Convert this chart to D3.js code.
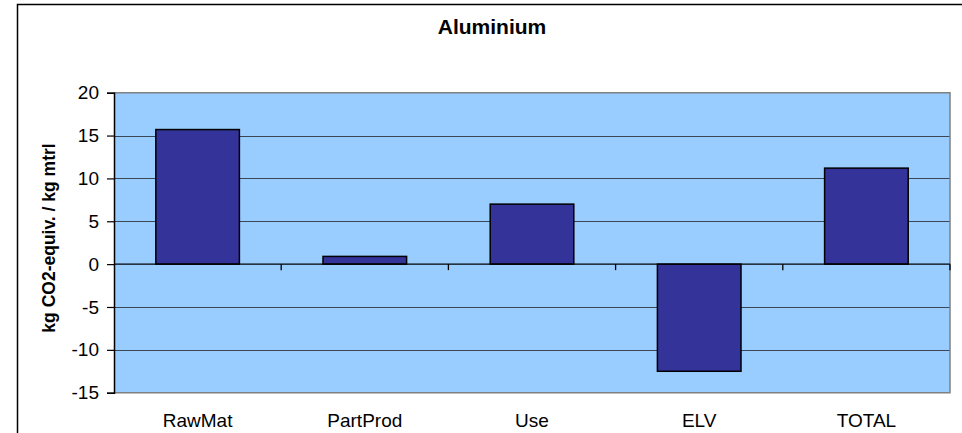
<!DOCTYPE html>
<html>
<head>
<meta charset="utf-8">
<script src="https://cdn.jsdelivr.net/npm/d3@7"></script>
<style>
  html, body { margin: 0; padding: 0; background: #fff; }
  svg { display: block; font-family: "Liberation Sans", Arial, sans-serif; }
</style>
</head>
<body>
<svg id="chart" width="962" height="433"></svg>
<script>
// Life-cycle stages and their greenhouse contribution (kg CO2-equiv. per kg material)
const categories = ["RawMat", "PartProd", "Use", "ELV", "TOTAL"];
const values = [15.7, 0.9, 7.0, -12.5, 11.2];
const yTicks = [-15, -10, -5, 0, 5, 10, 15, 20];
const chartTitle = "Aluminium";
const yTitle = "kg CO2-equiv. / kg mtrl";

const svg = d3.select("#chart");
const plot = { left: 114, right: 950, top: 92.7, bottom: 392.7 };

// outer frame
svg.append("rect")
  .attr("x", 17.5).attr("y", 4.5)
  .attr("width", 1000).attr("height", 500)
  .attr("fill", "none").attr("stroke", "#000").attr("stroke-width", 1.5);

const x = d3.scaleBand().domain(categories).range([plot.left, plot.right]).padding(0);
const y = d3.scaleLinear().domain([-15, 20]).range([plot.bottom, plot.top]);

// plot background
svg.append("rect")
  .attr("x", plot.left).attr("y", plot.top)
  .attr("width", plot.right - plot.left).attr("height", plot.bottom - plot.top)
  .attr("fill", "#99CCFF");

// horizontal gridlines
svg.append("g")
  .selectAll("line")
  .data(yTicks.filter(d => d !== 0 && d !== -15 && d !== 20))
  .join("line")
  .attr("x1", plot.left).attr("x2", plot.right)
  .attr("y1", d => Math.round(y(d)) + 0.5).attr("y2", d => Math.round(y(d)) + 0.5)
  .attr("stroke", "#3a4654").attr("stroke-width", 1.2);

// plot border (top, right, bottom)
svg.append("path")
  .attr("d", `M${plot.left},${plot.top}H${plot.right}V${plot.bottom}H${plot.left}`)
  .attr("fill", "none").attr("stroke", "#808080").attr("stroke-width", 1.5);

// bars
const bw = x.bandwidth() * 0.5;
svg.append("g")
  .selectAll("rect")
  .data(categories.map((c, i) => ({ c, v: values[i] })))
  .join("rect")
  .attr("x", d => x(d.c) + (x.bandwidth() - bw) / 2)
  .attr("y", d => y(Math.max(0, d.v)))
  .attr("width", bw)
  .attr("height", d => Math.abs(y(d.v) - y(0)))
  .attr("fill", "#333399")
  .attr("stroke", "#000").attr("stroke-width", 1.5);

// y axis
const yAxis = d3.axisLeft(y).tickValues(yTicks).tickSize(7).tickPadding(8).tickFormat(d3.format("d"));
const gy = svg.append("g").attr("transform", `translate(${plot.left},0)`).call(yAxis);
gy.select(".domain").attr("stroke", "#000").attr("stroke-width", 1.5);
gy.selectAll(".tick line").attr("stroke", "#000").attr("stroke-width", 1.2);
gy.selectAll(".tick text")
  .attr("font-size", 19).attr("fill", "#000")
  .attr("font-family", "'Liberation Sans', Arial, sans-serif")
  .text(d => d < 0 ? "-" + Math.abs(d) : d);

// zero axis with category separators
svg.append("line")
  .attr("x1", plot.left).attr("x2", plot.right)
  .attr("y1", y(0)).attr("y2", y(0))
  .attr("stroke", "#000").attr("stroke-width", 1.3);
svg.append("g")
  .selectAll("line")
  .data(categories.slice(1).map(c => x(c)).concat([plot.right]))
  .join("line")
  .attr("x1", d => d).attr("x2", d => d)
  .attr("y1", y(0)).attr("y2", y(0) + 6)
  .attr("stroke", "#000").attr("stroke-width", 1.3);

// category labels
svg.append("g")
  .selectAll("text")
  .data(categories)
  .join("text")
  .attr("x", d => x(d) + x.bandwidth() / 2)
  .attr("y", 427)
  .attr("text-anchor", "middle")
  .attr("font-size", 19)
  .attr("fill", "#000")
  .text(d => d);

// titles
svg.append("text")
  .attr("x", 492).attr("y", 34)
  .attr("text-anchor", "middle")
  .attr("font-size", 21).attr("font-weight", "bold")
  .text(chartTitle);

svg.append("text")
  .attr("transform", "translate(55,238) rotate(-90)")
  .attr("text-anchor", "middle")
  .attr("font-size", 17.5).attr("font-weight", "bold")
  .text(yTitle);
</script>
</body>
</html>
